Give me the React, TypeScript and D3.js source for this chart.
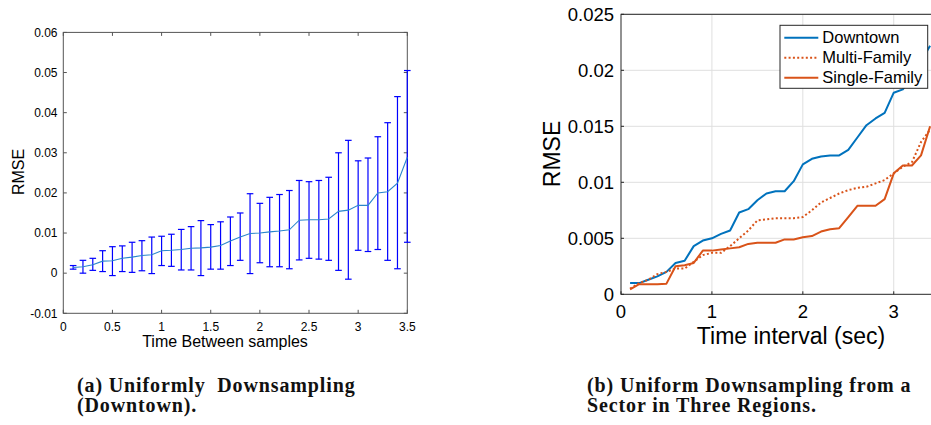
import React from "react";
import * as d3 from "d3";

// ---- Panel (a): RMSE vs. time between samples (Downtown), mean with error bars ----
const sampleGaps = [
  0.1, 0.2, 0.3, 0.4, 0.5, 0.6, 0.7, 0.8, 0.9, 1.0, 1.1, 1.2, 1.3, 1.4, 1.5, 1.6, 1.7, 1.8,
  1.9, 2.0, 2.1, 2.2, 2.3, 2.4, 2.5, 2.6, 2.7, 2.8, 2.9, 3.0, 3.1, 3.2, 3.3, 3.4, 3.5,
];
const meanRmse = [
  0.0014, 0.0016, 0.0021, 0.003, 0.0031, 0.0037, 0.004, 0.0044, 0.0046, 0.0056, 0.0057, 0.0059,
  0.0062, 0.0063, 0.0065, 0.0069, 0.008, 0.009, 0.0099, 0.01, 0.0103, 0.0105, 0.0108, 0.0132,
  0.0133, 0.0133, 0.0135, 0.0154, 0.0157, 0.0169, 0.0169, 0.02, 0.0203, 0.0224, 0.0289,
];
const upperRmse = [
  0.0019, 0.0032, 0.0037, 0.0056, 0.0066, 0.0068, 0.0077, 0.0081, 0.009, 0.0092, 0.0097, 0.0109,
  0.0116, 0.0131, 0.0121, 0.0128, 0.014, 0.015, 0.0198, 0.0174, 0.0189, 0.0196, 0.0206, 0.0231,
  0.0228, 0.0231, 0.0239, 0.03, 0.0331, 0.028, 0.0287, 0.034, 0.0375, 0.044, 0.0505,
];
const lowerRmse = [
  0.001, 0.0, 0.0007, 0.0004, -0.0006, 0.0004, 0.0002, 0.0006, -0.0001, 0.0019, 0.0017, 0.0008,
  0.0008, -0.0006, 0.001, 0.001, 0.0019, 0.0032, -0.0001, 0.0026, 0.0016, 0.0016, 0.0011, 0.0033,
  0.0037, 0.0035, 0.0032, 0.0007, -0.0015, 0.0057, 0.0054, 0.0059, 0.0032, 0.0011, 0.0077,
];
const gapTicks = [0, 0.5, 1, 1.5, 2, 2.5, 3, 3.5];
const gapTickLabels = ["0", "0.5", "1", "1.5", "2", "2.5", "3", "3.5"];
const rmseTicksA = [-0.01, 0, 0.01, 0.02, 0.03, 0.04, 0.05, 0.06];
const rmseTickLabelsA = ["-0.01", "0", "0.01", "0.02", "0.03", "0.04", "0.05", "0.06"];

// ---- Panel (b): RMSE vs. time interval for three regions ----
const regionIntervals = [
  0.1, 0.2, 0.3, 0.4, 0.5, 0.6, 0.7, 0.8, 0.9, 1.0, 1.1, 1.2, 1.3, 1.4, 1.5, 1.6, 1.7, 1.8,
  1.9, 2.0, 2.1, 2.2, 2.3, 2.4, 2.5, 2.6, 2.7, 2.8, 2.9, 3.0, 3.1, 3.2, 3.3, 3.4,
];
const downtownRmse = [
  0.001, 0.001, 0.0013, 0.0016, 0.002, 0.0028, 0.003, 0.0043, 0.0048, 0.005, 0.0054, 0.0057,
  0.0073, 0.0076, 0.0084, 0.009, 0.0092, 0.0092, 0.0101, 0.0116, 0.0121, 0.0123, 0.0124, 0.0124,
  0.0129, 0.014, 0.0151, 0.0157, 0.0162, 0.018, 0.0183, 0.0195, 0.0208, 0.0222,
];
const multiFamilyRmse = [
  0.0005, 0.001, 0.0013, 0.0018, 0.002, 0.0023, 0.0023, 0.0029, 0.0035, 0.0037, 0.0037, 0.0043,
  0.005, 0.0057, 0.0066, 0.0067, 0.0068, 0.0068, 0.0068, 0.0069, 0.0075, 0.0082, 0.0086, 0.009,
  0.0093, 0.0095, 0.0096, 0.0099, 0.0102, 0.0108, 0.0114, 0.0118, 0.0136, 0.0147,
];
const singleFamilyRmse = [
  0.00045, 0.0009, 0.0009, 0.0009, 0.00095, 0.0025, 0.0026, 0.0028, 0.0039, 0.0039, 0.004, 0.0041,
  0.0042, 0.0045, 0.0046, 0.0046, 0.0046, 0.0049, 0.0049, 0.0051, 0.0052, 0.0056, 0.0058, 0.0059,
  0.0069, 0.0079, 0.0079, 0.0079, 0.0085, 0.0108, 0.0115, 0.0115, 0.0124, 0.015,
];
const regionNames = ["Downtown", "Multi-Family", "Single-Family"];
const intervalTicks = [0, 1, 2, 3];
const intervalTickLabels = ["0", "1", "2", "3"];
const rmseTicksB = [0, 0.005, 0.01, 0.015, 0.02, 0.025];
const rmseTickLabelsB = ["0", "0.005", "0.01", "0.015", "0.02", "0.025"];

const SANS = "'Liberation Sans', Arial, Helvetica, sans-serif";
const SERIF = "'Liberation Serif', 'Times New Roman', serif";

function PanelA() {
  const x = d3.scaleLinear().domain([0, 3.5]).range([63.3, 407.3]);
  const y = d3.scaleLinear().domain([-0.01, 0.06]).range([313.3, 32.4]);
  const [x0, x1] = x.range();
  const [yb, yt] = y.range();
  const tick = 3.5;
  const frame = "#555";
  const pts = sampleGaps.map((g, i) => ({ g, m: meanRmse[i], hi: upperRmse[i], lo: lowerRmse[i] }));
  const meanLine = d3
    .line<{ g: number; m: number }>()
    .x((d) => x(d.g))
    .y((d) => y(d.m));
  const cap = 3.3;
  return (
    <g>
      <rect x={x0} y={yt} width={x1 - x0} height={yb - yt} fill="#fff" stroke={frame} strokeWidth={1} />
      {gapTicks.map((t) => (
        <g key={"xt" + t}>
          <line x1={x(t)} x2={x(t)} y1={yb} y2={yb - tick} stroke={frame} />
          <line x1={x(t)} x2={x(t)} y1={yt} y2={yt + tick} stroke={frame} />
        </g>
      ))}
      {rmseTicksA.map((t) => (
        <g key={"yt" + t}>
          <line x1={x0} x2={x0 + tick} y1={y(t)} y2={y(t)} stroke={frame} />
          <line x1={x1} x2={x1 - tick} y1={y(t)} y2={y(t)} stroke={frame} />
        </g>
      ))}
      {pts.map((d) => (
        <g key={"eb" + d.g} stroke="#0000ff" strokeWidth={1.2}>
          <line x1={x(d.g)} x2={x(d.g)} y1={y(d.lo)} y2={y(d.hi)} />
          <line x1={x(d.g) - cap} x2={x(d.g) + cap} y1={y(d.hi)} y2={y(d.hi)} />
          <line x1={x(d.g) - cap} x2={x(d.g) + cap} y1={y(d.lo)} y2={y(d.lo)} />
        </g>
      ))}
      <path d={meanLine(pts) ?? ""} fill="none" stroke="#2a86cc" strokeWidth={1.1} />
      <g fontFamily={SANS} fontSize={12} fill="#000">
        {gapTicks.map((t, i) => (
          <text key={"xl" + t} x={x(t)} y={330.5} textAnchor="middle">
            {gapTickLabels[i]}
          </text>
        ))}
        {rmseTicksA.map((t, i) => (
          <text key={"yl" + t} x={57.5} y={y(t)} dy="0.35em" textAnchor="end">
            {rmseTickLabelsA[i]}
          </text>
        ))}
      </g>
      <text x={225} y={347} fontFamily={SANS} fontSize={16} textAnchor="middle">
        Time Between samples
      </text>
      <text
        transform="translate(24,172) rotate(-90)"
        fontFamily={SANS}
        fontSize={16}
        textAnchor="middle"
      >
        RMSE
      </text>
    </g>
  );
}

function PanelB() {
  const x = d3.scaleLinear().domain([0, 3.5]).range([621, 939.2]);
  const y = d3.scaleLinear().domain([0, 0.025]).range([294.3, 14.3]);
  const [x0, x1] = x.range();
  const [yb, yt] = y.range();
  const axisColor = "#262626";
  const colors = ["#0072BD", "#D95319", "#D95319"];
  const dashes = [undefined, "2 2.3", undefined];
  const series = [downtownRmse, multiFamilyRmse, singleFamilyRmse];
  const line = d3
    .line<number>()
    .x((_, i) => x(regionIntervals[i]))
    .y((v) => y(v));
  const lx = 780,
    ly = 25.3,
    lw = 147.7,
    lh = 63;
  return (
    <g>
      <rect x={x0} y={yt} width={x1 - x0} height={yb - yt} fill="#fff" />
      {intervalTicks
        .filter((t) => t > 0)
        .map((t) => (
          <line key={"gx" + t} x1={x(t)} x2={x(t)} y1={yb} y2={yt} stroke="#dfdfdf" strokeWidth={1} />
        ))}
      {rmseTicksB
        .filter((t) => t > 0)
        .map((t) => (
          <line key={"gy" + t} x1={x0} x2={x1} y1={y(t)} y2={y(t)} stroke="#dfdfdf" strokeWidth={1} />
        ))}
      <rect x={x0} y={yt} width={x1 - x0} height={yb - yt} fill="none" stroke={axisColor} strokeWidth={1} />
      {intervalTicks.map((t) => (
        <line key={"tx" + t} x1={x(t)} x2={x(t)} y1={yb} y2={yb - 3} stroke={axisColor} />
      ))}
      {rmseTicksB.map((t) => (
        <line key={"ty" + t} x1={x0} x2={x0 + 3} y1={y(t)} y2={y(t)} stroke={axisColor} />
      ))}
      {series.map((s, k) => (
        <path
          key={regionNames[k]}
          d={line(s) ?? ""}
          fill="none"
          stroke={colors[k]}
          strokeWidth={2}
          strokeDasharray={dashes[k]}
          strokeLinejoin="round"
        />
      ))}
      <g fontFamily={SANS} fontSize={18.5} fill="#000">
        {intervalTicks.map((t, i) => (
          <text key={"xl" + t} x={x(t)} y={318} textAnchor="middle">
            {intervalTickLabels[i]}
          </text>
        ))}
        {rmseTicksB.map((t, i) => (
          <text key={"yl" + t} x={614} y={y(t)} dy="0.35em" textAnchor="end">
            {rmseTickLabelsB[i]}
          </text>
        ))}
      </g>
      <text x={x(1.87)} y={343.5} fontFamily={SANS} fontSize={23} textAnchor="middle">
        Time interval (sec)
      </text>
      <text
        transform="translate(560,154) rotate(-90)"
        fontFamily={SANS}
        fontSize={23}
        textAnchor="middle"
      >
        RMSE
      </text>
      <rect x={lx} y={ly} width={lw} height={lh} fill="#fff" stroke={axisColor} strokeWidth={1} />
      {regionNames.map((name, k) => (
        <g key={"lg" + name}>
          <line
            x1={lx + 4.3}
            x2={lx + 38.3}
            y1={ly + 12.4 + k * 20}
            y2={ly + 12.4 + k * 20}
            stroke={colors[k]}
            strokeWidth={2}
            strokeDasharray={dashes[k]}
          />
          <text x={lx + 42.3} y={ly + 12.4 + k * 20} dy="0.35em" fontFamily={SANS} fontSize={16.5}>
            {name}
          </text>
        </g>
      ))}
    </g>
  );
}

function Captions() {
  return (
    <g fontFamily={SERIF} fontWeight="bold" fontSize={20} letterSpacing={0.87} fill="#111">
      <text x={77} y={392} xmlSpace="preserve" style={{ whiteSpace: "pre" }}>
        {"(a) Uniformly  Downsampling"}
      </text>
      <text x={77} y={412}>
        (Downtown).
      </text>
      <text x={587} y={392}>
        (b) Uniform Downsampling from a
      </text>
      <text x={587} y={412}>
        Sector in Three Regions.
      </text>
    </g>
  );
}

export default function App() {
  return (
    <div style={{ position: "absolute", left: 0, top: 0, width: 931, height: 425, background: "#fff" }}>
      <svg width={931} height={425} viewBox="0 0 931 425" style={{ display: "block" }}>
        <rect width={931} height={425} fill="#fff" />
        <PanelA />
        <PanelB />
        <Captions />
      </svg>
    </div>
  );
}
